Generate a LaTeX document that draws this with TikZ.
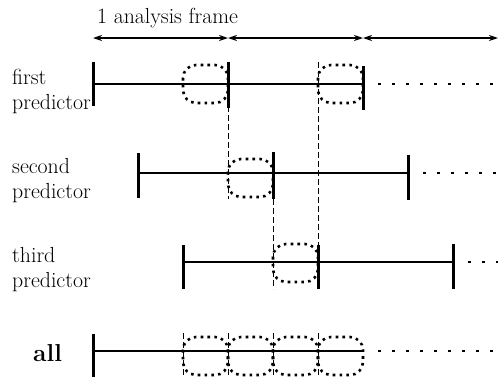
\documentclass[tikz,border=0pt]{standalone}
\usepackage{fontspec}
\usetikzlibrary{arrows.meta}
\begin{document}
\begin{tikzpicture}[x=1pt,y=-1pt,
  axis/.style={line width=2.8pt},
  tickmark/.style={line width=3pt},
  win/.style={line width=2.6pt, dash pattern=on 2.6pt off 4.2pt, rounded corners=13pt},
  trail/.style={line width=2.8pt, dash pattern=on 2.8pt off 11.2pt},
  guide/.style={line width=0.8pt, dash pattern=on 6pt off 3pt},
  span/.style={line width=1.4pt, {Stealth[length=9pt,width=6pt]}-{Stealth[length=9pt,width=6pt]}},
  lbl/.style={font=\fontsize{21.8}{25}\selectfont, align=left, inner sep=0pt, anchor=base west}]
\useasboundingbox (0,0) rectangle (500,384);

% title and frame arrows
\node[lbl] (title) at (97,23) {1 analysis frame};
\coordinate (a0) at (93,38);
\coordinate (a1) at (228,38);
\coordinate (a2) at (363,38);
\coordinate (a3) at (498,38);
\draw[span] (a0) -- (a1);
\draw[span] (a1) -- (a2);
\draw[span] (a2) -- (a3);

% labels (base anchor = last line)
\node[lbl] (l1) at (12,109) {first\\predictor};
\node[lbl] (l2) at (12,198) {second\\predictor};
\node[lbl] (l3) at (12,287) {third\\predictor};
\node[lbl, font=\fontsize{24.5}{25}\selectfont\bfseries] (l4) at (33,361) {all};

% guide lines (dashed)
\draw[guide] (228,106) -- (228,199);
\draw[guide] (318,62) -- (318,289);
\draw[guide] (273,199) -- (273,289);
\foreach \x in {183,228,273,318} \draw[guide] (\x,333) -- (\x,378);

% row 1
\coordinate (r1s) at (93,84);
\coordinate (r1e) at (363,84);
\coordinate (r1d) at (498,84);
\draw[axis] (r1s) -- (r1e);
\draw[trail] ([xshift=15pt]r1e) -- (r1d);
\draw[tickmark] (93,62) -- (93,106);
\draw[tickmark] (228,62) -- (228,108);
\draw[tickmark] (363,66) -- (363,110);
\draw[win] (183,65) rectangle (228,103);
\draw[win] (318,65) rectangle (363,103);

% row 2
\coordinate (r2s) at (138,173);
\coordinate (r2e) at (408,173);
\coordinate (r2d) at (498,173);
\draw[axis] (r2s) -- (r2e);
\draw[trail] ([xshift=15pt]r2e) -- (r2d);
\draw[tickmark] (138,153) -- (138,198);
\draw[tickmark] (273,152) -- (273,199);
\draw[tickmark] (408,155) -- (408,200);
\draw[win] (228,159) rectangle (273,197);

% row 3
\coordinate (r3s) at (183,262);
\coordinate (r3e) at (453,262);
\coordinate (r3d) at (498,262);
\draw[axis] (r3s) -- (r3e);
\draw[trail] ([xshift=15pt]r3e) -- (r3d);
\draw[tickmark] (183,245) -- (183,289);
\draw[tickmark] (318,245) -- (318,289);
\draw[tickmark] (453,244) -- (453,289);
\draw[win] (273,244) rectangle (318,282);

% row 4 (all)
\coordinate (r4s) at (93,351);
\coordinate (r4e) at (363,351);
\coordinate (r4d) at (498,351);
\draw[axis] (r4s) -- (r4e);
\draw[trail] ([xshift=15pt]r4e) -- (r4d);
\draw[tickmark] (93,334) -- (93,377);
\foreach \x in {183,228,273,318}
  \draw[win] (\x,337) rectangle ({\x+45},375);
\end{tikzpicture}
\end{document}
